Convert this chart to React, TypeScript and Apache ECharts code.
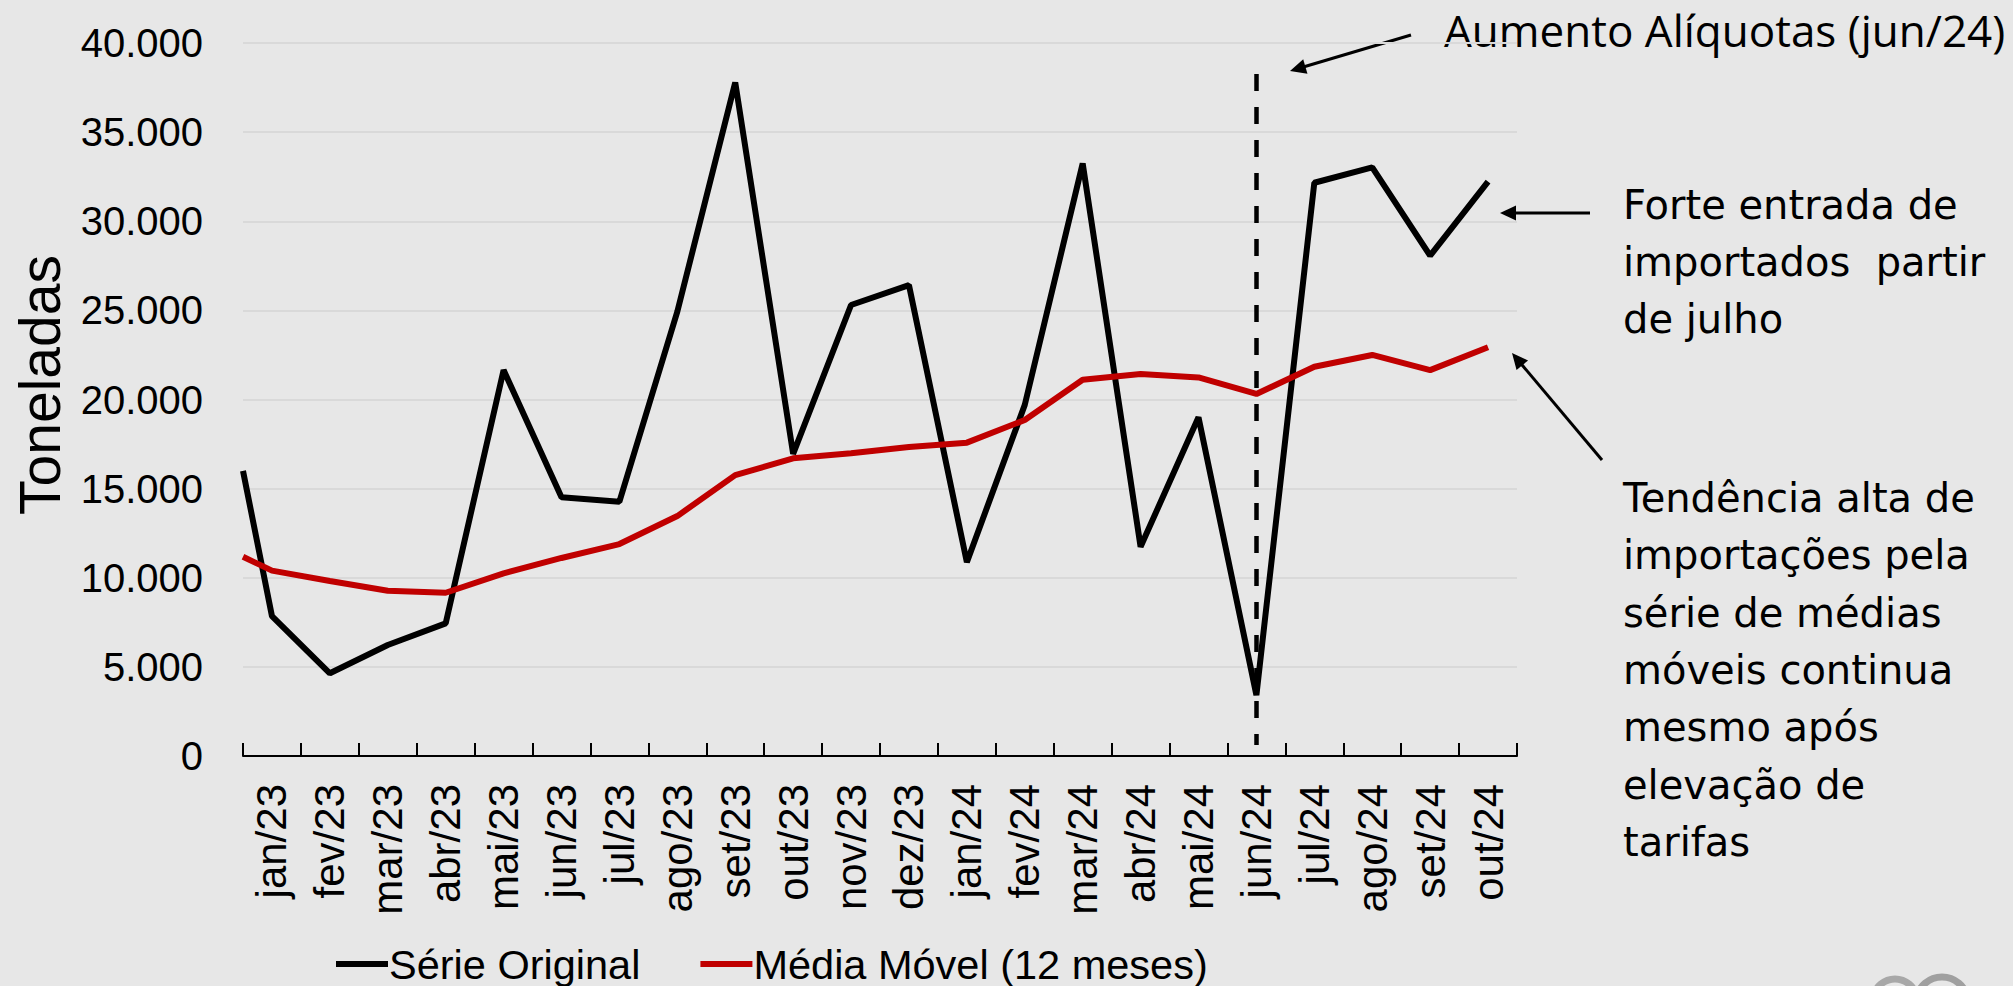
import React, { useEffect, useRef } from "react";
import * as echarts from "echarts";

// ---------- data ----------
const categories = [
  "jan/23", "fev/23", "mar/23", "abr/23", "mai/23", "jun/23", "jul/23", "ago/23",
  "set/23", "out/23", "nov/23", "dez/23", "jan/24", "fev/24", "mar/24", "abr/24",
  "mai/24", "jun/24", "jul/24", "ago/24", "set/24", "out/24",
];

const serieOriginal = [
  7850, 4640, 6230, 7440, 21650, 14510, 14270, 24930, 37790, 16950, 25300,
  26420, 10870, 19700, 33240, 11740, 19000, 3420, 32160, 33020, 28070, 32220,
];

const mediaMovel = [
  10400, 9820, 9270, 9160, 10250, 11110, 11890, 13460, 15760, 16700, 16990,
  17330, 17580, 18850, 21110, 21430, 21240, 20310, 21840, 22500, 21650, 22930,
];

// value at which each line enters the plot at its left edge (previous month, cut off)
const serieOriginalEdge = 16000;
const mediaMovelEdge = 11180;

const yMin = 0;
const yMax = 40000;
const yInterval = 5000;

// vertical dashed marker (jun/24)
const eventCategory = "jun/24";
const eventTop = 38260;
const eventBottom = 620;

const seriesNames = ["Série Original", "Média Móvel (12 meses)"];
const annotationTop = "Aumento Alíquotas (jun/24)";
const annotationMid = ["Forte entrada de", "importados  partir", "de julho"];
const annotationLow = [
  "Tendência alta de",
  "importações pela",
  "série de médias",
  "móveis continua",
  "mesmo após",
  "elevação de",
  "tarifas",
];
const yName = "Toneladas";

// ---------- helpers ----------
const toXY = (values: number[], edge: number) => [
  [0, edge],
  ...values.map((v, i) => [i + 0.5, v]),
];

const fmt = (v: number) =>
  v === 0 ? "0" : String(v).replace(/\B(?=(\d{3})+(?!\d))/g, ".");

const AX_FONT = "'Liberation Sans', Arial, sans-serif";
const NOTE_FONT = "'DejaVu Sans', Verdana, sans-serif";

function arrow(x1: number, y1: number, x2: number, y2: number) {
  const head = 16;
  const half = 7.5;
  const dx = x2 - x1;
  const dy = y2 - y1;
  const len = Math.hypot(dx, dy);
  const ux = dx / len;
  const uy = dy / len;
  const bx = x2 - ux * head;
  const by = y2 - uy * head;
  const px = -uy;
  const py = ux;
  return [
    {
      type: "line",
      shape: { x1, y1, x2: bx + ux * 3, y2: by + uy * 3 },
      style: { stroke: "#000", lineWidth: 3 },
    },
    {
      type: "polygon",
      shape: {
        points: [
          [x2, y2],
          [bx + px * half, by + py * half],
          [bx - px * half, by - py * half],
        ],
      },
      style: { fill: "#000" },
    },
  ];
}

export default function App() {
  const ref = useRef<HTMLDivElement>(null);

  useEffect(() => {
    if (!ref.current) return;
    const chart = echarts.init(ref.current, null, { renderer: "svg" });
    const eventX = categories.indexOf(eventCategory) + 0.5;

    const graphic: any[] = [
      {
        type: "text",
        x: 40,
        y: 385,
        rotation: Math.PI / 2,
        style: {
          text: yName,
          font: `57px ${AX_FONT}`,
          fill: "#000",
          align: "center",
          verticalAlign: "middle",
        },
      },
      {
        type: "text",
        x: 1444,
        y: 30,
        style: {
          text: annotationTop,
          font: `44px 'Open Sans', sans-serif`,
          fill: "#000",
          align: "left",
          verticalAlign: "middle",
        },
      },
      ...annotationMid.map((t, i) => ({
        type: "text",
        x: 1623,
        y: 205 + i * 57,
        style: {
          text: t,
          font: `40px ${NOTE_FONT}`,
          fill: "#000",
          align: "left",
          verticalAlign: "middle",
        },
      })),
      ...annotationLow.map((t, i) => ({
        type: "text",
        x: 1623,
        y: 498 + i * 57.3,
        style: {
          text: t,
          font: `40px ${NOTE_FONT}`,
          fill: "#000",
          align: "left",
          verticalAlign: "middle",
        },
      })),
      ...arrow(1411, 35, 1290, 71),
      ...arrow(1590, 213, 1500, 213),
      ...arrow(1602, 460, 1512, 353),
      {
        type: "arc",
        shape: { cx: 1895, cy: 1001, r: 22, startAngle: Math.PI * 1.05, endAngle: Math.PI * 1.95 },
        style: { stroke: "#a8a8a8", lineWidth: 7, fill: "none" },
      },
      {
        type: "arc",
        shape: { cx: 1942, cy: 1003, r: 26, startAngle: Math.PI * 1.05, endAngle: Math.PI * 1.95 },
        style: { stroke: "#a0a0a0", lineWidth: 7, fill: "none" },
      },
    ];

    chart.setOption({
      animation: false,
      backgroundColor: "#e7e7e7",
      textStyle: { fontFamily: AX_FONT },
      grid: {
        left: 243,
        right: 2013 - 1517,
        top: 43,
        bottom: 986 - 756,
        containLabel: false,
        outerBoundsMode: "none",
      },
      legend: {
        show: true,
        left: 331,
        top: 938,
        icon: "rect",
        itemWidth: 52,
        itemHeight: 6,
        itemGap: 60,
        data: seriesNames,
        textStyle: {
          fontSize: 41.5,
          color: "#000",
          fontFamily: AX_FONT,
          lineHeight: 40,
          padding: [0, 0, 0, -4],
        },
      },
      xAxis: [
        {
          type: "category",
          data: categories,
          boundaryGap: true,
          axisLine: { show: true, lineStyle: { color: "#000", width: 2 } },
          axisTick: {
            show: true,
            inside: true,
            length: 13,
            interval: 0,
            lineStyle: { color: "#000", width: 2 },
          },
          axisLabel: {
            interval: 0,
            rotate: 90,
            margin: 28,
            fontSize: 42,
            color: "#000",
            fontFamily: AX_FONT,
          },
          splitLine: { show: false },
        },
        {
          type: "value",
          min: 0,
          max: categories.length,
          show: false,
        },
      ],
      yAxis: {
        type: "value",
        min: yMin,
        max: yMax,
        interval: yInterval,
        axisLine: { show: false },
        axisTick: { show: false },
        splitLine: { lineStyle: { color: "#d9d9d9", width: 2 } },
        axisLabel: {
          margin: 40,
          fontSize: 40,
          color: "#000",
          fontFamily: AX_FONT,
          formatter: (v: number) => fmt(v),
        },
      },
      series: [
        {
          name: seriesNames[0],
          type: "line",
          xAxisIndex: 1,
          data: toXY(serieOriginal, serieOriginalEdge),
          symbol: "none",
          color: "#000",
          lineStyle: { color: "#000", width: 6 },
          markLine: {
            silent: true,
            symbol: ["none", "none"],
            label: { show: false },
            lineStyle: { color: "#000", width: 4.5, type: [17, 16] },
            data: [[{ coord: [eventX, eventTop] }, { coord: [eventX, eventBottom] }]],
          },
        },
        {
          name: seriesNames[1],
          type: "line",
          xAxisIndex: 1,
          data: toXY(mediaMovel, mediaMovelEdge),
          symbol: "none",
          color: "#c00000",
          lineStyle: { color: "#c00000", width: 6 },
        },
      ],
      graphic,
    });

    return () => chart.dispose();
  }, []);

  return (
    <div
      ref={ref}
      style={{ position: "fixed", left: 0, top: 0, width: 2013, height: 986 }}
    />
  );
}
